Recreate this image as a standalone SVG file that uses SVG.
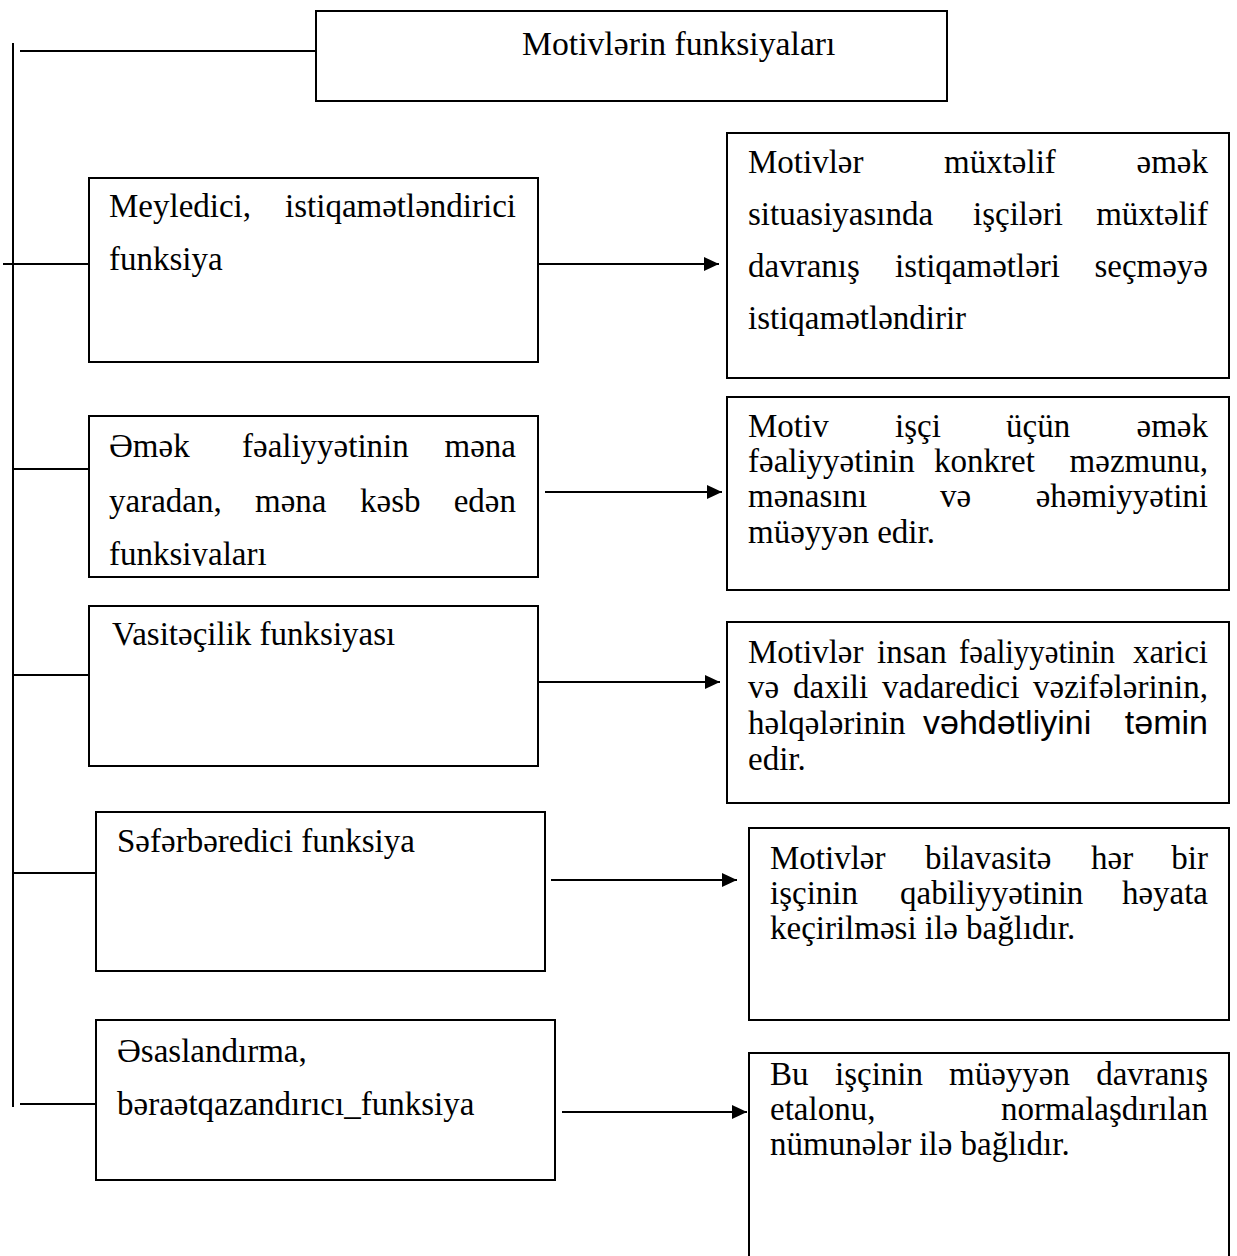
<svg xmlns="http://www.w3.org/2000/svg" width="1237" height="1256" viewBox="0 0 1237 1256">
  <style>
    .box { fill: #ffffff; stroke: #000000; stroke-width: 2; }
    .wire { fill: none; stroke: #000000; stroke-width: 2; }
    .t { font-family: "Liberation Serif", "Times New Roman", serif; font-size: 33px; fill: #000000; }
    .end { text-anchor: end; }
    .head { font-size: 33.7px; }
    .sans { font-family: "Liberation Sans", Arial, sans-serif; font-size: 34px; }
  </style>
  <defs>
    <marker id="arrow" viewBox="0 0 15 14" refX="15" refY="7" markerWidth="15" markerHeight="14" markerUnits="userSpaceOnUse" orient="auto">
      <path d="M0,0 L15,7 L0,14 Z" fill="#000000"/>
    </marker>
    <clipPath id="clip-meaning">
      <rect x="89" y="415" width="449" height="151"/>
    </clipPath>
  </defs>
  <rect width="1237" height="1256" fill="#ffffff"/>

  <!-- trunk, branches and arrows -->
  <g id="connectors">
    <line class="wire" x1="13" y1="43" x2="13" y2="1107"/>
    <line class="wire" x1="20" y1="51" x2="316" y2="51"/>
    <line class="wire" x1="3" y1="264" x2="89" y2="264"/>
    <line class="wire" x1="13" y1="469" x2="97" y2="469"/>
    <line class="wire" x1="13" y1="675" x2="97" y2="675"/>
    <line class="wire" x1="13" y1="873" x2="96" y2="873"/>
    <line class="wire" x1="20" y1="1104" x2="97" y2="1104"/>
    <line class="wire" x1="538" y1="264" x2="719" y2="264" marker-end="url(#arrow)"/>
    <line class="wire" x1="545" y1="492" x2="722" y2="492" marker-end="url(#arrow)"/>
    <line class="wire" x1="538" y1="682" x2="720" y2="682" marker-end="url(#arrow)"/>
    <line class="wire" x1="551" y1="880" x2="737" y2="880" marker-end="url(#arrow)"/>
    <line class="wire" x1="562" y1="1112" x2="747" y2="1112" marker-end="url(#arrow)"/>
  </g>

  <g id="title">
    <rect class="box" x="316" y="11" width="631" height="90"/>
    <text class="t head" x="522" y="55">Motivlərin funksiyaları</text>
  </g>

  <g id="func-orienting">
    <rect class="box" x="89" y="178" width="449" height="184"/>
    <text class="t" x="109" y="217">Meyledici,</text>
    <text class="t end" x="516" y="217">istiqamətləndirici</text>
    <text class="t" x="109" y="270">funksiya</text>
  </g>

  <g id="desc-orienting">
    <rect class="box" x="727" y="133" width="502" height="245"/>
    <text class="t" x="748" y="173">Motivlər</text>
    <text class="t" x="944" y="173">müxtəlif</text>
    <text class="t end" x="1208" y="173">əmək</text>
    <text class="t" x="748" y="225">situasiyasında</text>
    <text class="t" x="973" y="225">işçiləri</text>
    <text class="t end" x="1208" y="225">müxtəlif</text>
    <text class="t" x="748" y="277">davranış</text>
    <text class="t" x="895" y="277">istiqamətləri</text>
    <text class="t end" x="1208" y="277">seçməyə</text>
    <text class="t" x="748" y="329">istiqamətləndirir</text>
  </g>

  <g id="func-meaning">
    <rect class="box" x="89" y="416" width="449" height="161"/>
    <g clip-path="url(#clip-meaning)">
      <text class="t" x="109" y="457">Əmək</text>
      <text class="t" x="242" y="457">fəaliyyətinin</text>
      <text class="t end" x="516" y="457">məna</text>
      <text class="t" x="109" y="512">yaradan,</text>
      <text class="t" x="255" y="512">məna</text>
      <text class="t" x="360" y="512">kəsb</text>
      <text class="t end" x="516" y="512">edən</text>
      <text class="t" x="109" y="565">funksiyaları</text>
    </g>
  </g>

  <g id="desc-meaning">
    <rect class="box" x="727" y="397" width="502" height="193"/>
    <text class="t" x="748" y="437">Motiv</text>
    <text class="t" x="895" y="437">işçi</text>
    <text class="t" x="1006" y="437">üçün</text>
    <text class="t end" x="1208" y="437">əmək</text>
    <text class="t" x="748" y="472">fəaliyyətinin</text>
    <text class="t" x="934" y="472">konkret</text>
    <text class="t end" x="1208" y="472">məzmunu,</text>
    <text class="t" x="748" y="507">mənasını</text>
    <text class="t" x="940" y="507">və</text>
    <text class="t end" x="1208" y="507">əhəmiyyətini</text>
    <text class="t" x="748" y="543">müəyyən edir.</text>
  </g>

  <g id="func-mediating">
    <rect class="box" x="89" y="606" width="449" height="160"/>
    <text class="t" x="112" y="645">Vasitəçilik funksiyası</text>
  </g>

  <g id="desc-mediating">
    <rect class="box" x="727" y="622" width="502" height="181"/>
    <text class="t" x="748" y="663">Motivlər</text>
    <text class="t" x="877" y="663">insan</text>
    <text class="t" x="959" y="663" textLength="156" lengthAdjust="spacingAndGlyphs">fəaliyyətinin</text>
    <text class="t end" x="1208" y="663">xarici</text>
    <text class="t" x="748" y="698">və</text>
    <text class="t" x="793" y="698">daxili</text>
    <text class="t" x="882" y="698">vadaredici</text>
    <text class="t end" x="1208" y="698">vəzifələrinin,</text>
    <text class="t" x="748" y="734">həlqələrinin</text>
    <text class="t sans" x="923" y="734">vəhdətliyini</text>
    <text class="t sans end" x="1208" y="734">təmin</text>
    <text class="t" x="748" y="770">edir.</text>
  </g>

  <g id="func-mobilizing">
    <rect class="box" x="96" y="812" width="449" height="159"/>
    <text class="t" x="117" y="852">Səfərbəredici funksiya</text>
  </g>

  <g id="desc-mobilizing">
    <rect class="box" x="749" y="828" width="480" height="192"/>
    <text class="t" x="770" y="869">Motivlər</text>
    <text class="t" x="925" y="869">bilavasitə</text>
    <text class="t" x="1091" y="869">hər</text>
    <text class="t end" x="1208" y="869">bir</text>
    <text class="t" x="770" y="904">işçinin</text>
    <text class="t" x="900" y="904">qabiliyyətinin</text>
    <text class="t end" x="1208" y="904">həyata</text>
    <text class="t" x="770" y="939">keçirilməsi ilə bağlıdır.</text>
  </g>

  <g id="func-justifying">
    <rect class="box" x="96" y="1020" width="459" height="160"/>
    <text class="t" x="117" y="1062">Əsaslandırma,</text>
    <text class="t" x="117" y="1115">bəraətqazandırıcı_funksiya</text>
  </g>

  <g id="desc-justifying">
    <rect class="box" x="749" y="1053" width="480" height="212"/>
    <text class="t" x="770" y="1085">Bu</text>
    <text class="t" x="835" y="1085">işçinin</text>
    <text class="t" x="949" y="1085">müəyyən</text>
    <text class="t end" x="1208" y="1085">davranış</text>
    <text class="t" x="770" y="1120">etalonu,</text>
    <text class="t end" x="1208" y="1120">normalaşdırılan</text>
    <text class="t" x="770" y="1155">nümunələr ilə bağlıdır.</text>
  </g>
</svg>
